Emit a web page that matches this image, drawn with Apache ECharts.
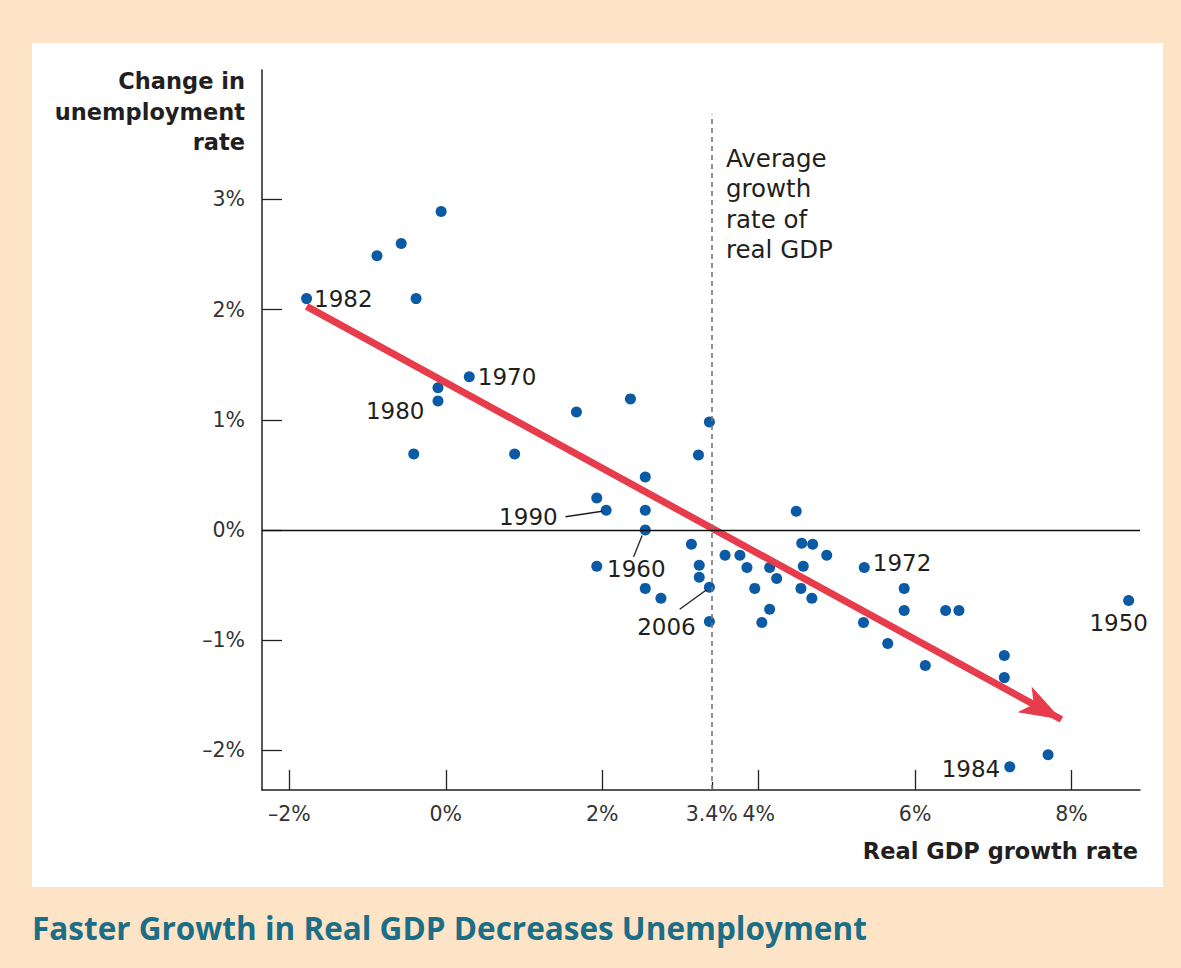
<!DOCTYPE html>
<html>
<head>
<meta charset="utf-8">
<title>Faster Growth in Real GDP Decreases Unemployment</title>
<script src="https://cdn.jsdelivr.net/npm/echarts@6/dist/echarts.min.js"></script>
<style>
  html, body { margin: 0; padding: 0; background: #fde4c6; }
  #chart { width: 1181px; height: 968px; }
</style>
</head>
<body>
<div id="chart"></div>
<script>
// Real GDP growth rate (%) for each year
const growth = [
  -1.78, -0.88, -0.57, -0.06, -0.38, 0.30, -0.10, -0.10, -0.41, 0.88,
  1.67, 2.36, 3.37, 3.23, 2.55, 1.93, 2.05, 2.55, 2.55, 3.14,
  1.93, 3.24, 3.24, 2.55, 2.75, 3.37, 3.37, 3.57, 3.76, 3.85,
  3.95, 4.14, 4.23, 4.14, 4.04, 4.48, 4.55, 4.69, 4.87, 4.57,
  4.54, 4.68, 5.35, 5.34, 5.86, 5.86, 5.65, 6.13, 6.39, 6.56,
  7.14, 7.14, 8.73, 7.21, 7.70
];
// Change in the unemployment rate (percentage points), same order
const change = [
  2.10, 2.49, 2.60, 2.89, 2.10, 1.39, 1.29, 1.17, 0.69, 0.69,
  1.07, 1.19, 0.98, 0.68, 0.48, 0.29, 0.18, 0.18, 0.00, -0.13,
  -0.33, -0.32, -0.43, -0.53, -0.62, -0.52, -0.83, -0.23, -0.23, -0.34,
  -0.53, -0.34, -0.44, -0.72, -0.84, 0.17, -0.12, -0.13, -0.23, -0.33,
  -0.53, -0.62, -0.34, -0.84, -0.53, -0.73, -1.03, -1.23, -0.73, -0.73,
  -1.14, -1.34, -0.64, -2.15, -2.04
];
// Year names shown beside selected points ('' = unlabeled)
const years = [
  '1982', '', '', '', '', '1970', '', '1980', '', '',
  '', '', '', '', '', '', '1990', '', '1960', '',
  '', '', '', '', '', '2006', '', '', '', '',
  '', '', '', '', '', '', '', '', '', '',
  '', '', '1972', '', '', '', '', '', '', '',
  '', '', '1950', '1984', ''
];
const xTicks = [-2, 0, 2, 4, 6, 8];
const xLabels = [-2, 0, 2, 3.4, 4, 6, 8];
const yTicks = [-2, -1, 0, 1, 2, 3];
const avgGrowth = 3.4;
// Trend arrow from upper-left to lower-right
const trendStart = [-1.78, 2.03];
const trendEnd = [7.87, -1.72];

const FONT = "'DejaVu Sans', 'Noto Sans', sans-serif";
const TITLE_FONT = "'Open Sans', 'Noto Sans', sans-serif";
const INK = '#231f20';
const DOT = '#0b5aa6';
const RED = '#e63c4b';

// where each year label sits relative to its dot
const labelPlacement = {
  '1982': { position: 'right', distance: 2 },
  '1970': { position: 'right', distance: 3 },
  '1980': { position: 'left', distance: 8, offset: [0, 10] },
  '1990': { position: 'left', distance: 43, offset: [0, 7] },
  '1960': { position: 'bottom', distance: 22, offset: [-9, 0] },
  '2006': { position: 'inside', offset: [-43, 40] },
  '1972': { position: 'right', distance: 3, offset: [0, -4] },
  '1950': { position: 'bottom', distance: 6, offset: [-10, 0] },
  '1984': { position: 'left', distance: 4, offset: [0, 2] }
};

const points = growth.map((g, i) => {
  const item = { value: [g, change[i]] };
  const yr = years[i];
  if (yr) {
    item.label = Object.assign({
      show: true,
      formatter: yr,
      color: INK,
      fontFamily: FONT,
      fontSize: 23
    }, labelPlacement[yr]);
  }
  return item;
});

// leader lines joining a few year names to their dots
function leader(i, from, to) {
  return [
    { coord: [growth[i] + from[0], change[i] + from[1]] },
    { coord: [growth[i] + to[0], change[i] + to[1]] }
  ];
}
const idx = y => years.indexOf(y);

const pct = v => (v < 0 ? '\u2013' + Math.abs(v) : String(v)) + '%';

const chart = echarts.init(document.getElementById('chart'), null, { renderer: 'svg' });

chart.setOption({
  backgroundColor: '#fde4c6',
  animation: false,
  title: {
    text: 'Faster Growth in Real GDP Decreases Unemployment',
    left: 27,
    top: 906,
    textStyle: { color: '#1c6e86', fontFamily: TITLE_FONT, fontWeight: 'bold', fontSize: 31.5 }
  },
  graphic: [
    {
      type: 'rect', z: -10, silent: true,
      shape: { x: 32, y: 43, width: 1131, height: 844 },
      style: { fill: '#ffffff' }
    },
    {
      type: 'text', z: 10,
      style: {
        x: 245, y: 111.5, text: 'Change in\nunemployment\nrate',
        align: 'right', verticalAlign: 'middle', lineHeight: 30.5,
        font: "bold 22.5px " + FONT, fill: INK
      }
    },
    {
      type: 'text', z: 10,
      style: {
        x: 1138, y: 851, text: 'Real GDP growth rate',
        align: 'right', verticalAlign: 'middle',
        font: "bold 22.5px " + FONT, fill: INK
      }
    },
    {
      type: 'text', z: 10,
      style: {
        x: 726, y: 204, text: 'Average\ngrowth\nrate of\nreal GDP',
        align: 'left', verticalAlign: 'middle', lineHeight: 30.5,
        font: "24.5px " + FONT, fill: INK
      }
    }
  ],
  grid: { left: 262, right: 41, top: 70, bottom: 178, containLabel: false },
  xAxis: [
    {
      type: 'value', min: -2.35, max: 8.875, position: 'bottom',
      axisLine: { onZero: false, lineStyle: { color: INK, width: 1.5 } },
      axisTick: { inside: true, length: 20, customValues: xTicks, lineStyle: { color: INK, width: 1.3 } },
      axisLabel: {
        customValues: xLabels, formatter: pct, margin: 13,
        color: '#333', fontFamily: FONT, fontSize: 20.5
      },
      splitLine: { show: false }
    },
    {
      type: 'value', min: -2.35, max: 8.875, position: 'bottom',
      axisLine: { show: false, onZero: false },
      axisTick: { inside: true, length: 8, customValues: [avgGrowth], lineStyle: { color: INK, width: 1.3 } },
      axisLabel: { show: false },
      splitLine: { show: false }
    }
  ],
  yAxis: {
    type: 'value', min: -2.36, max: 4.175, position: 'left',
    axisLine: { onZero: false, lineStyle: { color: INK, width: 1.5 } },
    axisTick: { inside: true, length: 20, customValues: yTicks, lineStyle: { color: INK, width: 1.3 } },
    axisLabel: {
      customValues: yTicks, formatter: pct, margin: 17,
      color: '#333', fontFamily: FONT, fontSize: 20.5
    },
    splitLine: { show: false }
  },
  series: [
    {
      // reference lines: zero change and average growth
      type: 'line', data: [], silent: true,
      markLine: {
        silent: true, symbol: ['none', 'none'], label: { show: false },
        data: [
          [{ coord: [-2.35, 0], lineStyle: { color: '#111', width: 1.3, type: 'solid' } }, { coord: [8.875, 0] }],
          [{ coord: [avgGrowth, -2.36], lineStyle: { color: '#777', width: 1.6, type: [5, 4] } }, { coord: [avgGrowth, 3.77] }]
        ]
      }
    },
    {
      // leader lines for year names
      type: 'line', data: [], silent: true,
      markLine: {
        silent: true, symbol: ['none', 'none'], label: { show: false },
        lineStyle: { color: INK, width: 1.3, type: 'solid' },
        data: [
          leader(idx('1990'), [-0.05, -0.01], [-0.52, -0.06]),
          leader(idx('1960'), [-0.04, -0.05], [-0.15, -0.245]),
          leader(idx('2006'), [-0.04, -0.025], [-0.38, -0.2])
        ]
      }
    },
    {
      type: 'scatter',
      data: points,
      symbol: 'circle',
      symbolSize: 11,
      itemStyle: { color: DOT, opacity: 1 },
      z: 3
    },
    {
      // trend arrow
      type: 'line', data: [], silent: true, z: 4,
      markLine: {
        silent: true, z: 4,
        symbol: ['none', 'arrow'], symbolSize: [22, 42],
        label: { show: false },
        itemStyle: { color: RED },
        lineStyle: { color: RED, width: 7, type: 'solid', opacity: 1 },
        data: [[{ coord: trendStart }, { coord: trendEnd }]]
      }
    }
  ]
});
</script>
</body>
</html>
